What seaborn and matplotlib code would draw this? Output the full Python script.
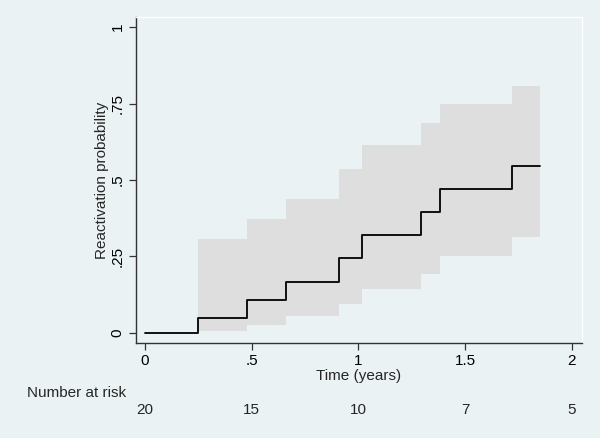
import matplotlib
matplotlib.use("Agg")
import matplotlib.pyplot as plt
import matplotlib.transforms as mtransforms
import seaborn as sns
import pandas as pd

# Data
step_times = [0, 0.25, 0.479, 0.659, 0.909, 1.015, 1.293, 1.382, 1.717, 1.85]
step_prob = [0, 0.049, 0.1086, 0.168, 0.2445, 0.3195, 0.3955, 0.4705, 0.5465, 0.5465]
ci_times = [0.25, 0.479, 0.659, 0.909, 1.015, 1.293, 1.382, 1.717, 1.85]
ci_lower = [0.005, 0.027, 0.056, 0.0955, 0.1435, 0.194, 0.252, 0.315, 0.315]
ci_upper = [0.3065, 0.374, 0.439, 0.536, 0.615, 0.686, 0.749, 0.807, 0.807]
x_ticks = [0, 0.5, 1, 1.5, 2]
x_tick_labels = ["0", ".5", "1", "1.5", "2"]
y_ticks = [0, 0.25, 0.5, 0.75, 1]
y_tick_labels = ["0", ".25", ".5", ".75", "1"]
risk_times = [0, 0.5, 1, 1.5, 2]
risk_numbers = [20, 15, 10, 7, 5]

BG = "#EAF2F3"
sns.set_theme(style="ticks")
plt.rcParams["font.family"] = ["Liberation Sans", "DejaVu Sans"]

fig = plt.figure(figsize=(6.0, 4.38), dpi=100, facecolor=BG)
ax = fig.add_axes([0.226, 0.2169, 0.744, 0.7443])
ax.set_facecolor(BG)

ax.fill_between(ci_times, ci_lower, ci_upper, step="post",
                color="#DEDEDE", linewidth=0)

df = pd.DataFrame({"time": step_times, "prob": step_prob})
sns.lineplot(data=df, x="time", y="prob", ax=ax, drawstyle="steps-post",
             color="black", linewidth=1.3, sort=False)

ax.set_xlim(-0.044, 2.047)
ax.set_ylim(-0.033, 1.033)
ax.set_xticks(x_ticks)
ax.set_xticklabels(x_tick_labels)
ax.set_yticks(y_ticks)
ax.set_yticklabels(y_tick_labels, rotation=90, va="center")
ax.tick_params(axis="both", length=5, width=0.9, color="#333333",
               labelsize=11, labelcolor="black", pad=3)
ax.set_xlabel("Time (years)", fontsize=11, labelpad=1)
ax.set_ylabel("Reactivation probability", fontsize=11, labelpad=1)

for s in ["left", "bottom"]:
    ax.spines[s].set_color("#333333")
    ax.spines[s].set_linewidth(1.0)
for s in ["top", "right"]:
    ax.spines[s].set_color("white")
    ax.spines[s].set_linewidth(1.0)

# Risk table
trans = mtransforms.blended_transform_factory(ax.transData, fig.transFigure)
fig.text(27 / 600, 1 - 393 / 438, "Number at risk", fontsize=11,
         ha="left", va="center")
for t, n in zip(risk_times, risk_numbers):
    ax.text(t, 1 - 410 / 438, str(n), transform=trans, fontsize=11,
            ha="center", va="center", clip_on=False)

fig.savefig("out.png", dpi=100, facecolor=BG)
